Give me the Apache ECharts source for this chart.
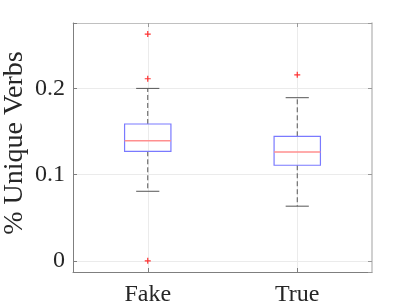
<!DOCTYPE html>
<html>
<head>
<meta charset="utf-8">
<script src="https://cdn.jsdelivr.net/npm/echarts@6/dist/echarts.min.js"></script>
<style>
html,body{margin:0;padding:0;background:#fff;}
#chart{width:411px;height:308px;}
</style>
</head>
<body>
<div id="chart"></div>
<script>
// ---- data ----
var categories = ['Fake', 'True'];
var lowerWhisker = [0.0807, 0.0634];
var q1 = [0.1271, 0.1109];
var median = [0.1394, 0.1263];
var q3 = [0.1588, 0.1445];
var upperWhisker = [0.2001, 0.1893];
var outliersFake = [0.2632, 0.2113, 0.0];
var outliersTrue = [0.2159];
var yMin = -0.013, yMax = 0.276;

// ---- build ----
var boxData = categories.map(function (c, i) {
  return [i, lowerWhisker[i], q1[i], median[i], q3[i], upperWhisker[i]];
});
var outlierData = [];
outliersFake.forEach(function (v) { outlierData.push([0, v]); });
outliersTrue.forEach(function (v) { outlierData.push([1, v]); });

var serif = "'Liberation Serif', 'Times New Roman', Times, serif";
var chart = echarts.init(document.getElementById('chart'), null, {renderer: 'canvas'});

function renderBox(params, api) {
  var idx = api.value(0);
  var pLW = api.coord([idx, api.value(1)]);
  var pQ1 = api.coord([idx, api.value(2)]);
  var pMed = api.coord([idx, api.value(3)]);
  var pQ3 = api.coord([idx, api.value(4)]);
  var pUW = api.coord([idx, api.value(5)]);
  var band = api.size([1, 0])[0];
  var bw = band * 0.31;
  var cw = bw * 0.5;
  var x = pMed[0];
  var whiskerStyle = {stroke: '#555555', lineWidth: 1, lineDash: [5, 3], fill: null};
  var capStyle = {stroke: '#555555', lineWidth: 1, fill: null};
  return {
    type: 'group',
    children: [
      {type: 'line', shape: {x1: x, y1: pQ3[1], x2: x, y2: pUW[1]}, style: whiskerStyle},
      {type: 'line', shape: {x1: x, y1: pQ1[1], x2: x, y2: pLW[1]}, style: whiskerStyle},
      {type: 'line', shape: {x1: x - cw / 2, y1: pUW[1], x2: x + cw / 2, y2: pUW[1]}, style: capStyle},
      {type: 'line', shape: {x1: x - cw / 2, y1: pLW[1], x2: x + cw / 2, y2: pLW[1]}, style: capStyle},
      {type: 'rect', shape: {x: x - bw / 2, y: pQ3[1], width: bw, height: pQ1[1] - pQ3[1]},
        style: {stroke: '#7a7aff', lineWidth: 1.2, fill: null}},
      {type: 'line', shape: {x1: x - bw / 2, y1: pMed[1], x2: x + bw / 2, y2: pMed[1]},
        style: {stroke: '#ff8f8f', lineWidth: 1.5}}
    ]
  };
}

var option = {
  animation: false,
  backgroundColor: '#ffffff',
  grid: {left: 73, right: 39, top: 23, bottom: 36, containLabel: false, outerBoundsMode: 'none'},
  xAxis: [
    {
      type: 'category', data: categories, position: 'bottom',
      axisLine: {show: true, onZero: false, lineStyle: {color: '#7f7f7f', width: 1}},
      axisTick: {show: true, inside: true, alignWithLabel: true, length: 4, lineStyle: {color: '#7f7f7f'}},
      axisLabel: {fontFamily: serif, fontSize: 24, color: '#262626', margin: 11},
      splitLine: {show: true, alignWithLabel: true, lineStyle: {color: '#ebebeb', width: 1}}
    },
    {
      type: 'category', data: categories, position: 'top',
      axisLine: {show: true, onZero: false, lineStyle: {color: '#c0c0c0', width: 1}},
      axisTick: {show: true, inside: true, alignWithLabel: true, length: 4, lineStyle: {color: '#9a9a9a'}},
      axisLabel: {show: false},
      splitLine: {show: false}
    }
  ],
  yAxis: [
    {
      type: 'value', min: yMin, max: yMax, splitNumber: 3, position: 'left',
      name: '% Unique Verbs', nameLocation: 'middle', nameGap: 44, nameMoveOverlap: false,
      nameTextStyle: {fontFamily: serif, fontSize: 28, color: '#262626', padding: [0, 0, 0, 9]},
      axisLine: {show: true, onZero: false, lineStyle: {color: '#7f7f7f', width: 1}},
      axisTick: {show: true, inside: true, length: 4, lineStyle: {color: '#7f7f7f'}},
      axisLabel: {
        fontFamily: serif, fontSize: 24, color: '#262626', margin: 8,
        showMinLabel: true, showMaxLabel: true,
        formatter: function (v) {
          var r = Math.round(v * 10) / 10;
          if (Math.abs(v - r) > 1e-6) return '';
          return String(r);
        }
      },
      splitLine: {show: true, lineStyle: {color: '#ebebeb', width: 1}}
    },
    {
      type: 'value', min: yMin, max: yMax, splitNumber: 3, position: 'right',
      axisLine: {show: true, onZero: false, lineStyle: {color: '#c0c0c0', width: 1.5}},
      axisTick: {show: true, inside: true, length: 4, lineStyle: {color: '#9a9a9a'}},
      axisLabel: {show: false},
      splitLine: {show: false}
    }
  ],
  series: [
    {
      type: 'custom', xAxisIndex: 0, yAxisIndex: 0,
      renderItem: renderBox, data: boxData, z: 3
    },
    {
      type: 'scatter', xAxisIndex: 0, yAxisIndex: 0,
      symbol: 'path://M0,2H5V3H0Z M2,0H3V5H2Z', symbolSize: 6,
      itemStyle: {color: '#ff0000'},
      data: outlierData, z: 4
    }
  ]
};
chart.setOption(option);
</script>
</body>
</html>
